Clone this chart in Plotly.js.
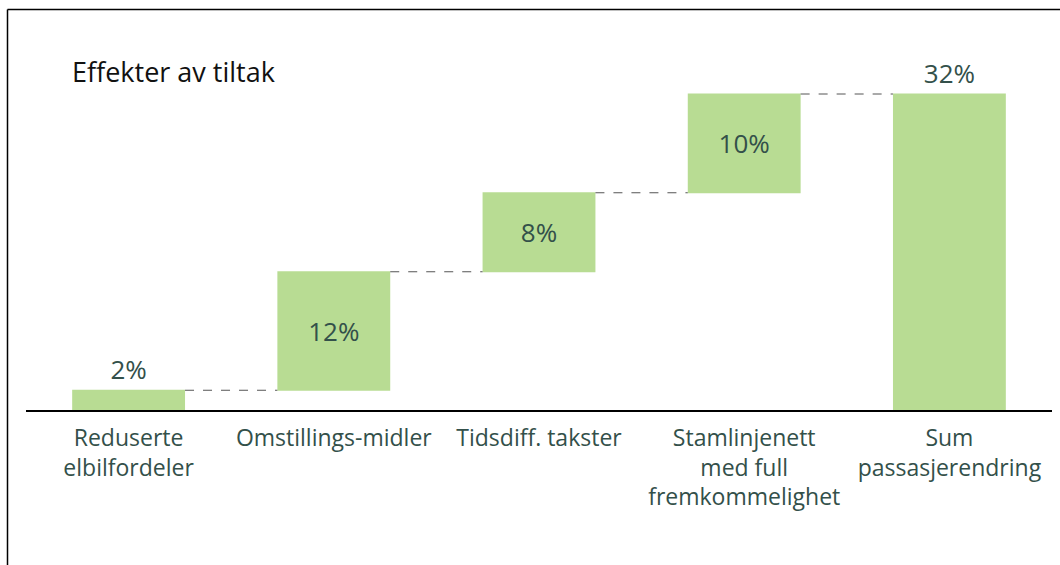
<!DOCTYPE html>
<html><head><meta charset="utf-8">
<script src="https://cdn.plot.ly/plotly-3.0.1.min.js"></script>
<style>html,body{margin:0;padding:0;background:#fff}#c{width:1060px;height:565px}</style>
</head><body><div id="c"></div>
<script>
const categories = ['Reduserte<br>elbilfordeler','Omstillings-midler','Tidsdiff. takster','Stamlinjenett<br>med full<br>fremkommelighet','Sum<br>passasjerendring'];
const values = [2, 12, 8, 10, 32];
const measures = ['relative','relative','relative','relative','total'];
const valueLabels = ['2%','12%','8%','10%','32%'];
const labelPositions = ['outside','inside','inside','inside','outside'];

const W = 1060, H = 565;
const L = 26, R = 1052, T = 40, B = 410;
const pw = R - L, ph = B - T;
const px = x => (x - L) / pw;
const py = y => (B - y) / ph;

const green = '#b8dc93';
const txt = '#33504a';
const FONT = '"Open Sans", sans-serif';

const trace = {
  type: 'waterfall',
  x: categories,
  y: values,
  measure: measures,
  text: valueLabels,
  textinfo: 'text',
  textposition: labelPositions,
  textfont: {family: FONT, size: 26, color: txt},
  insidetextanchor: 'middle',
  cliponaxis: false,
  width: 0.55,
  increasing: {marker: {color: green}},
  decreasing: {marker: {color: green}},
  totals: {marker: {color: green}},
  connector: {mode: 'between', line: {color: '#555', width: 1, dash: 'dash'}},
  hoverinfo: 'skip'
};

const layout = {
  width: W, height: H,
  margin: {l: L, r: W - R, t: T, b: H - B, pad: 0},
  paper_bgcolor: '#fff', plot_bgcolor: '#fff',
  showlegend: false,
  font: {family: FONT, color: txt},
  xaxis: {
    showline: true, linecolor: '#000', linewidth: 2,
    showgrid: false, zeroline: false, ticks: '',
    tickfont: {family: FONT, size: 23, color: txt},
    ticklabelstandoff: 6
  },
  yaxis: {visible: false, range: [0, (B - T) / 9.875], fixedrange: true},
  annotations: [{
    text: 'Effekter av tiltak', xref: 'paper', yref: 'paper',
    x: px(70), y: py(71), xanchor: 'left', yanchor: 'middle', showarrow: false,
    font: {family: FONT, size: 27, color: '#111'}
  }],
  shapes: [
    {type: 'line', xref: 'paper', yref: 'paper', x0: px(7.5), x1: px(1062), y0: py(9.5), y1: py(9.5), line: {color: '#000', width: 1.5}},
    {type: 'line', xref: 'paper', yref: 'paper', x0: px(7.5), x1: px(7.5), y0: py(9.5), y1: py(567), line: {color: '#000', width: 1.5}}
  ]
};

Plotly.newPlot('c', [trace], layout, {displayModeBar: false, staticPlot: true});
</script></body></html>
